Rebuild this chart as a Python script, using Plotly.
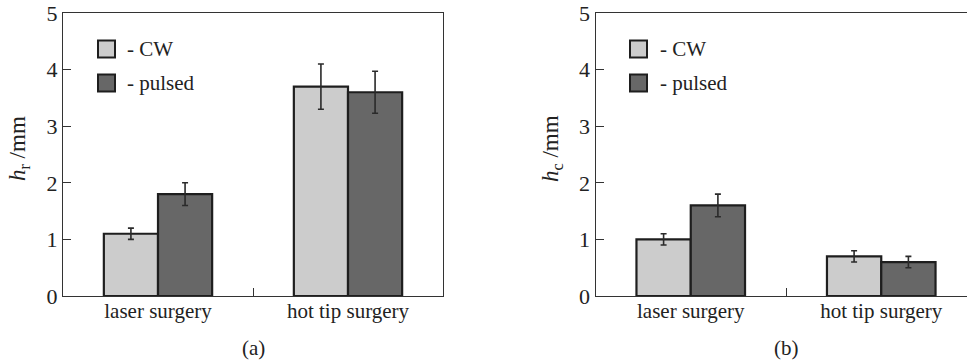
import plotly.graph_objects as go

categories = ["laser surgery", "hot tip surgery"]
series_names = ["CW", "pulsed"]
hr_cw = [1.1, 3.7]
hr_cw_err = [0.1, 0.4]
hr_pulsed = [1.8, 3.6]
hr_pulsed_err = [0.2, 0.37]
hc_cw = [1.0, 0.7]
hc_cw_err = [0.1, 0.1]
hc_pulsed = [1.6, 0.6]
hc_pulsed_err = [0.2, 0.1]
y_ticks = [0, 1, 2, 3, 4, 5]
panel_labels = ["(a)", "(b)"]
y_titles = ["<i>h</i><sub>r</sub> /mm", "<i>h</i><sub>c</sub> /mm"]

W, H = 967, 363
MT, MB = 13, 67
FONT = "Liberation Serif"
FS = 21
TXT = "#222222"
colors = ["#cccccc", "#676767"]
edge = "#1e1e1e"

def px(x):
    return x / W

def py(y):
    return (H - MB - y) / (H - MT - MB)

fig = go.Figure()

panels = [
    ("x", "y", [hr_cw, hr_pulsed], [hr_cw_err, hr_pulsed_err]),
    ("x2", "y2", [hc_cw, hc_pulsed], [hc_cw_err, hc_pulsed_err]),
]
for xa, ya, vals, errs in panels:
    for i, name in enumerate(series_names):
        fig.add_trace(go.Bar(
            x=categories, y=vals[i], name=name, xaxis=xa, yaxis=ya,
            marker=dict(color=colors[i], line=dict(color=edge, width=2.2)),
            error_y=dict(type="data", array=errs[i], color="#2a2a2a", thickness=1.6, width=3),
            showlegend=False, hoverinfo="skip",
        ))

axis_common = dict(showline=True, linecolor="#333333", linewidth=1.3,
                   ticks="inside", ticklen=8, tickcolor="#333333", tickwidth=1.3,
                   showgrid=False, zeroline=False,
                   tickfont=dict(family=FONT, size=FS, color=TXT))
ytickfont = dict(family=FONT, size=FS + 1, color=TXT)

fig.update_layout(
    width=W, height=H,
    margin=dict(l=0, r=0, t=MT, b=MB),
    paper_bgcolor="white", plot_bgcolor="white",
    font=dict(family=FONT, size=FS, color=TXT),
    barmode="group", bargap=0.43, bargroupgap=0,
    xaxis=dict(domain=[px(63), px(443)], anchor="y", range=[-0.5, 1.5],
               tickson="boundaries", mirror=True, ticklabelstandoff=-4, **axis_common),
    yaxis=dict(domain=[0, 1], anchor="x", range=[0, 5], tickvals=y_ticks,
               mirror=True, **axis_common),
    xaxis2=dict(domain=[px(595.5), 1], anchor="y2", range=[-0.5, -0.5 + (967 - 595.5) / 190.5],
                tickson="boundaries", mirror=True, ticklabelstandoff=-4, **axis_common),
    yaxis2=dict(domain=[0, 1], anchor="x2", range=[0, 5], tickvals=y_ticks,
                mirror=False, **axis_common),
)
fig.update_yaxes(tickfont=ytickfont)

shapes = []
annotations = []
for k, (x0, tx) in enumerate([(98, 125), (630, 658)]):
    for i, (yc, name) in enumerate([(49, series_names[0]), (83, series_names[1])]):
        shapes.append(dict(type="rect", xref="paper", yref="paper",
                           x0=px(x0), x1=px(x0 + 17), y0=py(yc + 8.5), y1=py(yc - 8.5),
                           fillcolor=colors[i], line=dict(color=edge, width=2)))
        annotations.append(dict(xref="paper", yref="paper", x=px(tx), y=py(yc),
                                xanchor="left", yanchor="middle", showarrow=False,
                                text="- " + name,
                                font=dict(family=FONT, size=FS, color=TXT)))

for xc, label in zip([253, 786], panel_labels):
    annotations.append(dict(xref="paper", yref="paper", x=px(xc), y=py(348),
                            xanchor="center", yanchor="middle", showarrow=False,
                            text=label, font=dict(family=FONT, size=FS, color=TXT)))

for xc, title in zip([19, 552], y_titles):
    annotations.append(dict(xref="paper", yref="paper", x=px(xc), y=py(149),
                            xanchor="center", yanchor="middle", showarrow=False,
                            textangle=-90, text=title,
                            font=dict(family=FONT, size=FS + 2, color=TXT)))

fig.update_layout(shapes=shapes, annotations=annotations)
fig.write_html("out.html", config={"displayModeBar": False},
               post_script="document.body.style.margin='0';document.body.style.overflow='hidden';")
